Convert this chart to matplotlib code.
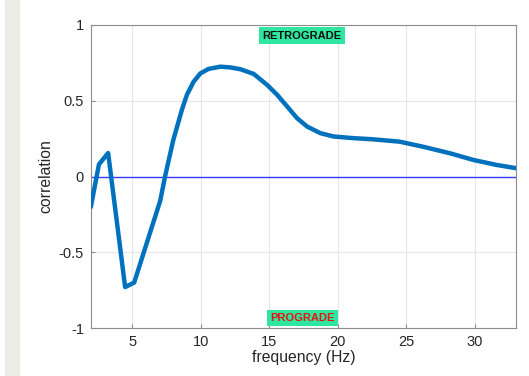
import matplotlib.pyplot as plt
from matplotlib.patches import Rectangle

plt.rcParams['font.family'] = ['Liberation Sans', 'DejaVu Sans']

# correlation vs frequency
freq = [2.0, 2.58, 3.25, 4.49, 5.15, 7.05, 7.4, 8.0, 8.63, 9.0, 9.48, 9.97,
        10.57, 11.43, 12.16, 12.9, 13.87, 14.84, 15.57, 16.3, 17.03, 17.76,
        18.73, 19.7, 21.16, 22.5, 24.5, 26.2, 28.2, 29.9, 31.6, 33.0]
corr = [-0.195, 0.08, 0.155, -0.73, -0.70, -0.16, 0.0, 0.24, 0.44, 0.54, 0.625,
        0.68, 0.71, 0.725, 0.72, 0.708, 0.677, 0.605, 0.54, 0.463, 0.385, 0.33,
        0.286, 0.264, 0.253, 0.246, 0.23, 0.197, 0.153, 0.109, 0.076, 0.055]

xticks = [5, 10, 15, 20, 25, 30]
yticks = [-1, -0.5, 0, 0.5, 1]
yticklabels = ['-1', '-0.5', '0', '0.5', '1']

fig = plt.figure(figsize=(5.29, 3.76), dpi=100)
fig.patches.append(Rectangle((5 / 529, 0), 14 / 529, 1, transform=fig.transFigure,
                             color='#ebede6', zorder=0))
ax = fig.add_axes([91 / 529, 48 / 376, 425 / 529, 303 / 376])

ax.axhline(0, color='#3a3aff', linewidth=1.0, zorder=2)
ax.plot(freq, corr, color='#0072BD', linewidth=3.2, solid_joinstyle='round', zorder=3)

ax.set_xlim(2, 33)
ax.set_ylim(-1, 1)
ax.set_xticks(xticks)
ax.set_yticks(yticks)
ax.set_yticklabels(yticklabels)
ax.grid(True, color='#e6e6e6', linewidth=0.8)
ax.set_axisbelow(True)
ax.tick_params(direction='in', length=3, colors='#8c8c8c', labelcolor='#262626',
               labelsize=10.5, pad=5)
for s in ax.spines.values():
    s.set_color('#8c8c8c')
    s.set_linewidth(0.8)

ax.set_xlabel('frequency (Hz)', fontsize=11.3, color='#262626', labelpad=1)
ax.set_ylabel('correlation', fontsize=11.3, color='#262626', labelpad=4)

box = dict(boxstyle='square,pad=0.3', facecolor='#2ee6a0', edgecolor='none')
ax.text(17.4, 0.93, 'RETROGRADE', fontsize=8, fontweight='bold', color='#111111',
        ha='center', va='center', bbox=box, zorder=4)
ax.text(17.45, -0.935, 'PROGRADE', fontsize=8, fontweight='bold', color='#ee1111',
        ha='center', va='center', bbox=box, zorder=4)

fig.savefig('out.png', dpi=100)
